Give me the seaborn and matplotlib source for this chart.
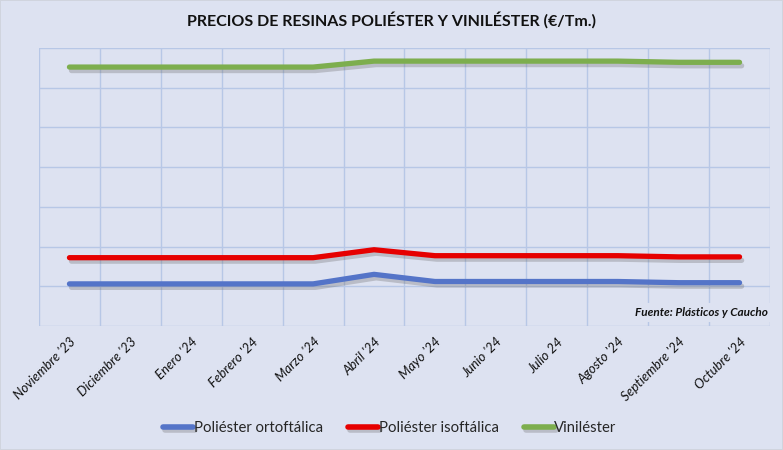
import matplotlib
matplotlib.use("Agg")
import matplotlib.pyplot as plt
import matplotlib.patheffects as pe
import seaborn as sns
import pandas as pd
import numpy as np

months = ["Noviembre '23", "Diciembre '23", "Enero '24", "Febrero '24", "Marzo '24",
          "Abril '24", "Mayo '24", "Junio '24", "Julio 24", "Agosto '24",
          "Septiembre '24", "Octubre '24"]
orto = [1530, 1530, 1530, 1530, 1530, 1650, 1560, 1560, 1560, 1560, 1545, 1545]
iso = [1860, 1860, 1860, 1860, 1860, 1960, 1885, 1885, 1885, 1885, 1870, 1870]
vinil = [4260, 4260, 4260, 4260, 4260, 4335, 4335, 4335, 4335, 4335, 4320, 4320]
series_names = ["Poliéster ortoftálica", "Poliéster isoftálica", "Viniléster"]
colors = ["#5474C8", "#E60000", "#7DAE4E"]

df = pd.DataFrame({"Mes": months * 3,
                   "x": list(range(len(months))) * 3,
                   "Precio": orto + iso + vinil,
                   "Serie": sum([[s] * len(months) for s in series_names], [])})

bg = "#DDE2F1"
grid_c = "#B7C7E6"
sns.set_theme(style="white")
plt.rcParams["font.family"] = ["Lato", "DejaVu Sans"]

fig = plt.figure(figsize=(7.83, 4.5), dpi=100, facecolor=bg,
                 edgecolor="#D0D4DE", linewidth=1.2)
ax = fig.add_axes([0.0498, 0.2756, 0.9336, 0.6177])
ax.set_facecolor(bg)

sns.lineplot(data=df, x="x", y="Precio", hue="Serie", palette=colors,
             hue_order=series_names, linewidth=3.8, ax=ax, legend=True,
             solid_capstyle="round", sort=False)
for line in ax.lines:
    line.set_path_effects([pe.SimpleLineShadow(offset=(1.5, -2.5), shadow_color="#666666", alpha=0.3),
                           pe.Normal()])
    line.set_solid_joinstyle("round")

ax.set_xlim(-0.5, len(months) - 0.5)
ax.set_ylim(1000, 4500)
ax.set_yticks(np.arange(1000, 4501, 500))
ax.set_yticklabels([])
ax.set_xticks(range(len(months)))
ax.set_xticklabels(months, rotation=45, ha="right", rotation_mode="anchor",
                   fontsize=9.5, style="italic", color="#111111")
ax.set_xticks(np.arange(-0.5, len(months), 1), minor=True)
ax.tick_params(axis="both", which="both", length=0)
ax.tick_params(axis="x", pad=7)
ax.grid(False)
ax.grid(True, axis="y", which="major", color=grid_c, linewidth=1)
ax.grid(True, axis="x", which="minor", color=grid_c, linewidth=1)
for s in ax.spines.values():
    s.set_visible(False)
ax.set_xlabel("")
ax.set_ylabel("")

leg = ax.legend(loc="center", bbox_to_anchor=(0.48, -0.367), ncol=3, frameon=False,
                fontsize=10.7, handlelength=2.0, handletextpad=0.05, columnspacing=1.7)
for h in leg.get_lines():
    h.set_linewidth(4)
    h.set_solid_capstyle("round")

ax.text(0.997, 0.03, "Fuente: Plásticos y Caucho", transform=ax.transAxes,
        ha="right", va="bottom", fontsize=8.5, fontweight="bold", style="italic",
        color="#111111",
        bbox=dict(facecolor=bg, edgecolor="none", pad=3))

fig.text(0.5, 0.955, "PRECIOS DE RESINAS POLIÉSTER Y VINILÉSTER (€/Tm.)",
         ha="center", va="center", fontsize=11.5, fontweight="bold", color="#111111")

fig.savefig("out.png", dpi=100, facecolor=bg, edgecolor=fig.get_edgecolor())
